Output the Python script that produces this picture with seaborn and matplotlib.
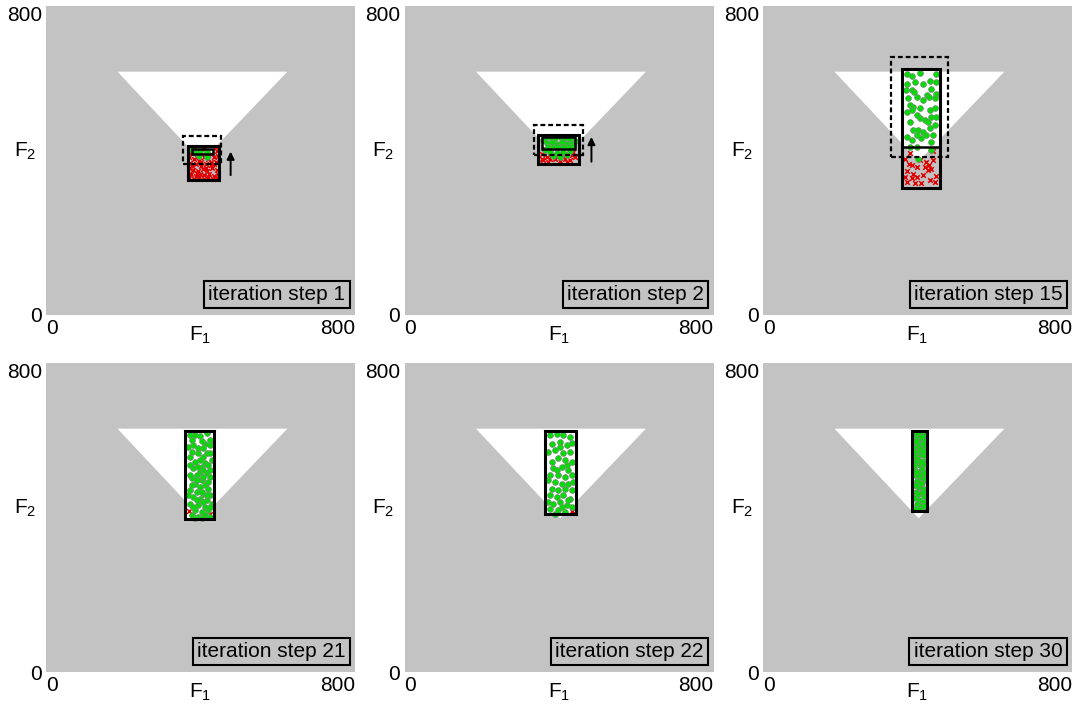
import matplotlib
matplotlib.use("Agg")
import matplotlib.pyplot as plt
import seaborn as sns
from matplotlib.patches import Polygon, Rectangle

sns.set_theme(style="white")
plt.rcParams["font.family"] = ["Liberation Sans", "DejaVu Sans"]
plt.rcParams["mathtext.fontset"] = "custom"
plt.rcParams["mathtext.rm"] = "Liberation Sans"
for key in ["text.color", "axes.labelcolor", "xtick.color", "ytick.color"]:
    plt.rcParams[key] = "black"

# ---- shared geometry of the feasible region (white triangle) ----
tri_x = [185, 625, 403]
tri_y = [630, 630, 398]
axis_lim = [0, 800]
tick_labels = ["0", "800"]
steps = [1, 2, 15, 21, 22, 30]

# ---- boxes per step: (x0, y0, x1, y1) ----
outer_boxes = [(367, 349, 448, 438), (346, 392, 451, 467), (361, 328, 459, 638),
               (360, 397, 435, 625), (365, 409, 444, 623), (385, 418, 425, 623)]
inner_boxes = [(379, 416, 433, 431), (357, 430, 441, 461), (361, 434, 459, 638),
               (360, 397, 435, 625), (365, 409, 444, 623), (385, 418, 425, 623)]
dashed_boxes = [(354, 391, 453, 463), (335, 414, 463, 493), (331, 408, 480, 667),
                None, None, None]
arrows = [(478, 362, 423), (484, 397, 461), None, None, None, None]

# ---- samples: step 1 ----
s1_green_x = [379, 398, 417, 416, 397, 388]
s1_green_y = [427, 424, 423, 408, 411, 420]
s1_red_x = [372, 384, 410, 440, 375, 390, 402, 428, 444,
            370, 382, 396, 408, 420, 434, 445,
            374, 388, 400, 414, 426, 440,
            370, 380, 394, 406, 418, 430, 444,
            376, 388, 398, 410, 422, 436, 446,
            370, 384, 396, 408, 420, 432, 442,
            390, 414, 378, 436, 402, 426, 392]
s1_red_y = [432, 436, 430, 434, 420, 418, 422, 418, 424,
            408, 404, 400, 410, 404, 408, 412,
            394, 390, 386, 392, 388, 396,
            380, 376, 374, 378, 372, 380, 376,
            364, 360, 366, 362, 366, 360, 366,
            354, 352, 356, 352, 356, 352, 354,
            410, 380, 386, 392, 396, 396, 368]

# ---- samples: step 2 ----
s2_green_x = [364, 376, 389, 402, 415, 428, 368, 381, 394, 407, 420, 433,
              372, 385, 398, 411, 424, 437, 359, 441, 376, 394, 411, 428,
              402, 385, 420, 364]
s2_green_y = [457, 460, 457, 460, 457, 455, 446, 449, 444, 447, 444, 446,
              436, 434, 436, 434, 436, 437, 453, 451, 423, 420, 423, 425,
              410, 411, 414, 427]
s2_red_x = [355, 368, 381, 359, 372, 389, 402, 415, 428, 441, 437, 364,
            420, 394, 407, 433, 355, 376]
s2_red_y = [418, 410, 414, 401, 397, 403, 399, 405, 401, 410, 423, 431,
            397, 410, 417, 414, 405, 403]

# ---- samples: step 15 ----
s15_green_x = [373, 385, 406, 448, 374, 393, 415, 432, 385, 392, 436, 449,
               424, 376, 398, 430, 445, 380, 389, 406, 372, 385, 432, 445,
               436, 398, 406, 419, 380, 428, 389, 402, 415, 445, 432, 410,
               398, 422, 372, 436, 380, 398, 436, 402, 449, 415, 370, 441,
               385, 449]
s15_green_y = [624, 618, 627, 623, 599, 604, 599, 606, 582, 578, 584, 573,
               569, 561, 565, 565, 561, 543, 539, 535, 526, 530, 530, 535,
               513, 517, 509, 504, 500, 500, 479, 479, 474, 492, 483, 457,
               466, 466, 461, 448, 435, 435, 427, 405, 604, 556, 582, 466,
               453, 513]
s15_red_x = [380, 368, 385, 398, 372, 389, 423, 430, 436, 428, 441, 368,
             385, 398, 415, 449, 372, 393, 410, 432, 445, 439, 406, 419, 379]
s15_red_y = [420, 405, 388, 384, 373, 366, 397, 388, 379, 375, 401, 358,
             354, 358, 362, 360, 345, 342, 341, 349, 345, 424, 401, 382, 392]

# ---- samples: step 21 ----
s21_green_x = [372, 386, 398, 416, 424, 381, 411, 424, 394, 407, 416, 372,
               386, 411, 403, 420, 381, 398, 407, 390, 416, 377, 403, 424,
               386, 411, 398, 420, 372, 390, 407, 424, 381, 398, 416, 372,
               394, 411, 386, 403, 420, 377, 394, 411, 424, 368, 429, 368,
               429, 407, 377, 403, 394, 377, 424, 398, 372, 424, 394, 372,
               407, 390, 420, 377, 403, 416, 390, 407, 381, 424, 403, 386]
s21_green_y = [614, 614, 611, 618, 601, 588, 590, 588, 566, 557, 566, 557,
               544, 540, 531, 535, 527, 518, 522, 510, 514, 501, 497, 505,
               488, 484, 480, 475, 471, 467, 462, 458, 454, 449, 445, 436,
               432, 428, 419, 415, 419, 406, 402, 406, 402, 458, 548, 583,
               436, 579, 600, 598, 579, 570, 566, 548, 535, 522, 531, 510,
               505, 497, 492, 484, 467, 458, 445, 441, 428, 428, 398, 398]
s21_red_x = [371, 377, 424]
s21_red_y = [418, 410, 408]

# ---- samples: step 22 ----
s22_green_x = [376, 394, 411, 428, 381, 402, 420, 433, 372, 389, 411, 428,
               398, 381, 415, 433, 385, 407, 424, 376, 398, 415, 433, 389,
               407, 424, 381, 398, 415, 433, 376, 394, 411, 428, 385, 402,
               420, 376, 398, 415, 433, 389, 407, 424, 372, 437, 402, 394,
               420, 372]
s22_green_y = [613, 615, 613, 609, 591, 596, 587, 593, 570, 574, 566, 570,
               553, 544, 548, 544, 527, 531, 523, 510, 510, 505, 510, 492,
               488, 488, 475, 471, 475, 471, 458, 454, 458, 449, 436, 440,
               432, 423, 419, 415, 428, 410, 428, 445, 497, 492, 583, 523,
               536, 440]
s22_red_x = [434, 439]
s22_red_y = [418, 412]

# ---- samples: step 30 ----
s30_green_x = [392, 402, 412, 420, 396, 408, 418, 390, 400, 414, 394, 406,
               420, 398, 410, 391, 418, 402, 414, 394, 420, 406, 391, 412,
               400, 418, 393, 408, 420, 398, 412, 391, 404, 418, 396, 410,
               420, 392, 404, 416, 398, 410, 392, 420, 404, 396, 414, 392,
               404, 416, 400, 410, 392, 408, 396, 414, 402, 418, 408, 396]
s30_green_y = [617, 614, 618, 611, 605, 603, 599, 595, 591, 589, 579, 577,
               581, 567, 565, 559, 561, 551, 547, 543, 539, 535, 527, 525,
               519, 515, 509, 505, 499, 495, 489, 483, 479, 475, 467, 463,
               455, 451, 445, 441, 435, 429, 423, 425, 421, 599, 573, 573,
               511, 455, 619, 609, 537, 489, 483, 467, 461, 431, 543, 519]
s30_red_x = []
s30_red_y = []

green_sets = [(s1_green_x, s1_green_y), (s2_green_x, s2_green_y),
              (s15_green_x, s15_green_y), (s21_green_x, s21_green_y),
              (s22_green_x, s22_green_y), (s30_green_x, s30_green_y)]
red_sets = [(s1_red_x, s1_red_y), (s2_red_x, s2_red_y),
            (s15_red_x, s15_red_y), (s21_red_x, s21_red_y),
            (s22_red_x, s22_red_y), (s30_red_x, s30_red_y)]

BG = "#c3c3c3"
fig = plt.figure(figsize=(10.79, 7.09), dpi=100)
W, H = 1079, 709
col_left = [46, 404.5, 763]
row_bottom = [315, 672]
size = 309


def box(ax, b, **kw):
    x0, y0, x1, y1 = b
    ax.add_patch(Rectangle((x0, y0), x1 - x0, y1 - y0, **kw))


for i, step in enumerate(steps):
    r, c = divmod(i, 3)
    ax = fig.add_axes([col_left[c] / W, (H - row_bottom[r]) / H, size / W, size / H])
    ax.set_facecolor(BG)
    ax.set_xlim(axis_lim)
    ax.set_ylim(axis_lim)
    for s in ax.spines.values():
        s.set_visible(False)

    ax.add_patch(Polygon(list(zip(tri_x, tri_y)), closed=True, fc="white", ec="none", zorder=1))
    box(ax, inner_boxes[i], fc="white", ec="none", zorder=2)

    rx, ry = red_sets[i]
    if rx:
        sns.scatterplot(x=rx, y=ry, ax=ax, marker="x", color="#e00000", s=11,
                        linewidth=1.1, zorder=3, legend=False)
    gx, gy = green_sets[i]
    sns.scatterplot(x=gx, y=gy, ax=ax, marker="o", color="#00dd00", s=17,
                    edgecolor="#6e946e", linewidth=0.6, zorder=4, legend=False)

    box(ax, outer_boxes[i], fc="none", ec="black", lw=2.2, zorder=6)
    box(ax, inner_boxes[i], fc="none", ec="black", lw=1.8, zorder=6)
    if dashed_boxes[i] is not None:
        box(ax, dashed_boxes[i], fc="none", ec="black", lw=1.6,
            ls=(0, (2.2, 1.3)), zorder=7)
    if arrows[i] is not None:
        ax_x, y0, y1 = arrows[i]
        ax.annotate("", xy=(ax_x, y1), xytext=(ax_x, y0),
                    arrowprops=dict(arrowstyle="-|>", color="black", lw=1.4,
                                    mutation_scale=11, shrinkA=0, shrinkB=0),
                    zorder=8)

    ax.text(775, 28, f"iteration step {step}", ha="right", va="bottom",
            fontsize=15, zorder=9,
            bbox=dict(boxstyle="square,pad=0.2", fc=BG, ec="black", lw=1.5))

    ax.set_xticks(axis_lim)
    ax.set_yticks(axis_lim)
    ax.set_xticklabels(tick_labels, fontsize=15)
    ax.set_yticklabels(tick_labels, fontsize=15)
    ax.tick_params(length=0, pad=3)
    xl = ax.get_xticklabels()
    xl[0].set_ha("left")
    xl[1].set_ha("right")
    yl = ax.get_yticklabels()
    yl[1].set_va("top")
    ax.set_xlabel(r"$\mathregular{F_1}$", fontsize=15)
    ax.set_ylabel(r"$\mathregular{F_2}$", fontsize=15, rotation=0, ha="center", va="center")
    ax.xaxis.set_label_coords(0.5, -0.03)
    ax.yaxis.set_label_coords(-0.068, 0.53)

fig.savefig("out.png", dpi=100)
